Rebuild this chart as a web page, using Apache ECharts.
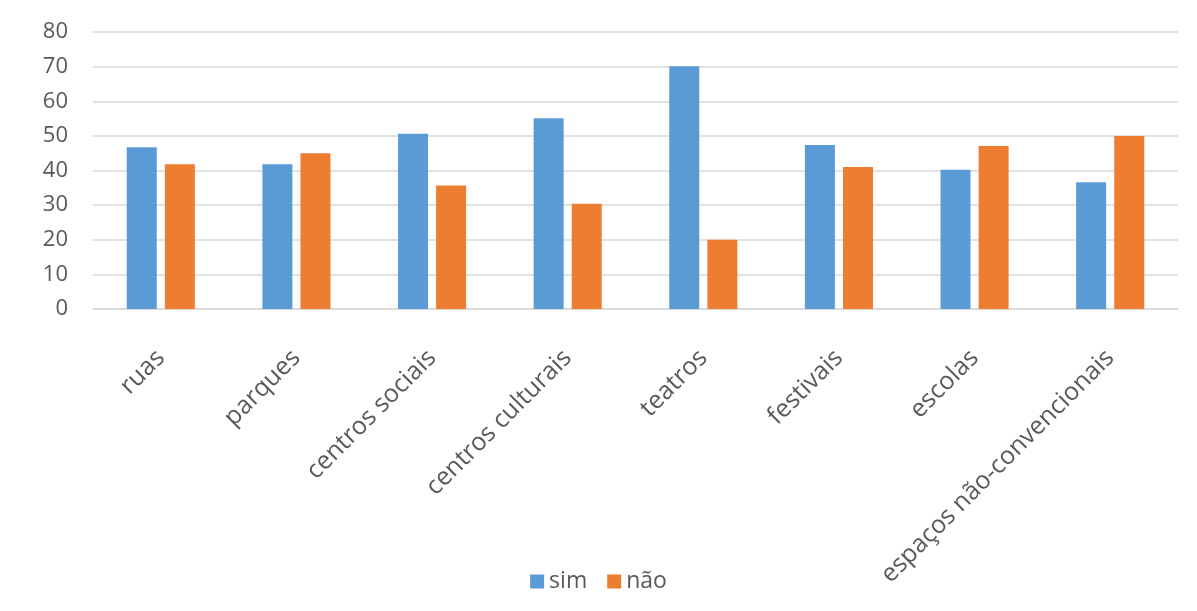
<!DOCTYPE html>
<html>
<head>
<meta charset="utf-8">
<script src="https://cdn.jsdelivr.net/npm/echarts@6/dist/echarts.min.js"></script>
<style>
  html, body { margin: 0; padding: 0; background: #ffffff; }
  #chart { width: 1197px; height: 611px; }
</style>
</head>
<body>
<div id="chart"></div>
<script>
// Locais de apresentação: respostas "sim" / "não"
const categories = ['ruas', 'parques', 'centros sociais', 'centros culturais', 'teatros', 'festivais', 'escolas', 'espaços não-convencionais'];
const simValues = [46.7, 41.8, 50.6, 55.1, 70.1, 47.4, 40.2, 36.6];
const naoValues = [41.8, 45.0, 35.7, 30.4, 20.0, 41.0, 47.1, 50.0];
const seriesNames = ['sim', 'não'];
const yTicks = { min: 0, max: 80, interval: 10 };

const textColor = '#595959';
const fontFamily = '"Open Sans", "Liberation Sans", sans-serif';

const chart = echarts.init(document.getElementById('chart'), null, { renderer: 'canvas' });
chart.setOption({
  animation: false,
  backgroundColor: '#ffffff',
  grid: { left: 93, right: 19, top: 32, bottom: 302, containLabel: false },
  legend: {
    data: seriesNames,
    bottom: 13,
    left: 'center',
    itemWidth: 14,
    itemHeight: 14,
    itemGap: 20,
    icon: 'rect',
    textStyle: { color: textColor, fontSize: 23, fontFamily: fontFamily }
  },
  xAxis: {
    type: 'category',
    data: categories,
    axisLine: { show: true, lineStyle: { color: '#D9D9D9', width: 1.5 } },
    axisTick: { show: false },
    axisLabel: {
      rotate: 45,
      interval: 0,
      margin: 45,
      color: textColor,
      fontSize: 25,
      fontFamily: fontFamily
    }
  },
  yAxis: {
    type: 'value',
    min: yTicks.min,
    max: yTicks.max,
    interval: yTicks.interval,
    axisLine: { show: false },
    axisTick: { show: false },
    splitLine: { lineStyle: { color: '#D9D9D9', width: 1.5 } },
    axisLabel: { color: textColor, fontSize: 22, fontFamily: fontFamily, margin: 25 }
  },
  series: [
    {
      name: seriesNames[0],
      type: 'bar',
      data: simValues,
      barWidth: 30,
      barGap: '27%',
      itemStyle: { color: '#5B9BD5' }
    },
    {
      name: seriesNames[1],
      type: 'bar',
      data: naoValues,
      barWidth: 30,
      barGap: '27%',
      itemStyle: { color: '#ED7D31' }
    }
  ]
});
</script>
</body>
</html>
